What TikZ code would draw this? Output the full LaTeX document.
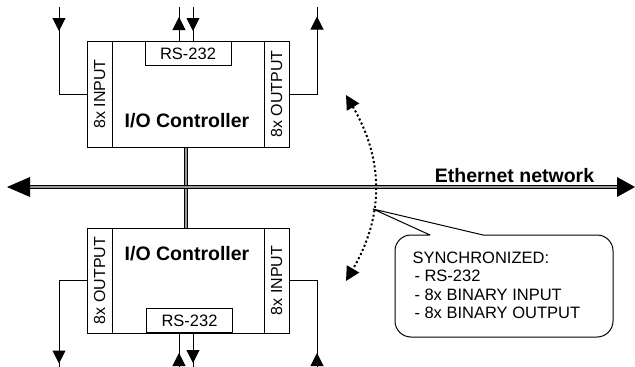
\documentclass[tikz,border=0pt]{standalone}
\usepackage{fontspec}
\setmainfont{Liberation Sans}
\usetikzlibrary{arrows.meta,decorations.markings}
\begin{document}
\begin{tikzpicture}[x=1pt,y=-1pt,line width=1pt,
  strip/.style={draw,inner sep=0pt,minimum width=25pt,minimum height=#1,font=\fontsize{16}{16}\selectfont},
  mainbox/.style={draw,inner sep=0pt,minimum width=152pt,minimum height=#1},
  rsbox/.style={draw,inner sep=0pt,minimum width=86pt,minimum height=24pt,font=\fontsize{16.5}{16.5}\selectfont},
  title/.style={inner sep=0pt,font=\bfseries\fontsize{19.5}{19.5}\selectfont},
  midarr/.style={postaction={decorate},decoration={markings,mark=at position #1 with {\arrow{Triangle[length=13pt,width=13pt]}}}},
  net/.style={line width=1.2pt,double=black!40,double distance=1.4pt},
  syncarrow/.style={line width=2pt,dash pattern=on 2pt off 2.5pt,{Triangle[length=14pt,width=14pt]}-{Triangle[length=14pt,width=14pt]}},
]
\fill[white] (0,0) rectangle (635,367);
\useasboundingbox (0,0) rectangle (635,367);

% top controller
\node[strip=106pt] (tin) at (99.5,94) {\rotatebox{90}{8x INPUT}};
\node[mainbox=106pt] (tmain) at (188,94) {};
\node[strip=106pt] (tout) at (276.5,94) {\rotatebox{90}{8x OUTPUT}};
\node[rsbox,anchor=north] (trs) at (188,41) {RS-232};
\node[title] (tlab) at (187,121) {I/O Controller};

% bottom controller
\node[strip=105pt] (bout) at (99.5,280.5) {\rotatebox{90}{8x OUTPUT}};
\node[mainbox=105pt] (bmain) at (188,280.5) {};
\node[strip=105pt] (bin) at (276.5,280.5) {\rotatebox{90}{8x INPUT}};
\node[rsbox,anchor=south] (brs) at (189.5,333) {RS-232};
\node[title] (blab) at (187,254) {I/O Controller};

% ethernet
\coordinate (ethL) at (7,187);
\coordinate (ethR) at (635,187);
\coordinate (j) at (186,187);
\draw[net] (tmain.south -| j) -- (j);
\draw[net] (j) -- (bmain.north -| j);
\draw[net,shorten <=20pt,shorten >=16pt] (ethL) -- (ethR);
\fill (ethL) -- ++(23,-10) -- ++(0,20) -- cycle;
\fill (ethR) -- ++(-18,-10) -- ++(0,20) -- cycle;
\node[title,anchor=base] (ethlab) at (514.5,182) {Ethernet network};

% top I/O lines
\coordinate (a1) at (59,7);
\coordinate (a2) at (317,7);
\coordinate (a3) at (179,7);
\coordinate (a4) at (193,7);
\draw[midarr=24pt] (a1) |- (tin.west);
\draw[midarr=105pt] (tout.east) -| (a2);
\draw[midarr=24pt] (trs.north -| a3) -- (a3);
\draw[midarr=24pt] (a4) -- (trs.north -| a4);

% bottom I/O lines
\coordinate (b1) at (59,367);
\coordinate (b2) at (317,367);
\coordinate (b3) at (179,367);
\coordinate (b4) at (193,367);
\draw[midarr=110.5pt] (bout.west) -| (b1);
\draw[midarr=14pt] (b2) |- (bin.east);
\draw[midarr=14pt] (b3) -- (brs.south -| b3);
\draw[midarr=30pt] (brs.south -| b4) -- (b4);

% synchronisation arc
\coordinate (sA) at (346,95);
\coordinate (sB) at (346,281);
\draw[syncarrow] (sA) .. controls (384,160) and (384,216) .. (sB);

% callout
\draw[line join=round] (430,235) -- (373,209) -- (483,235) [rounded corners=16pt] -- (613,235) -- (613,337) -- (395,337) -- (395,235) -- (430,235);
\node[anchor=north west,align=left,inner sep=0pt,font=\fontsize{16.5}{18.6}\selectfont] (sync) at (412,251)
  {SYNCHRONIZED:\\\hspace{2pt}- RS-232\\\hspace{2pt}- 8x BINARY INPUT\\\hspace{2pt}- 8x BINARY OUTPUT};
\end{tikzpicture}
\end{document}
